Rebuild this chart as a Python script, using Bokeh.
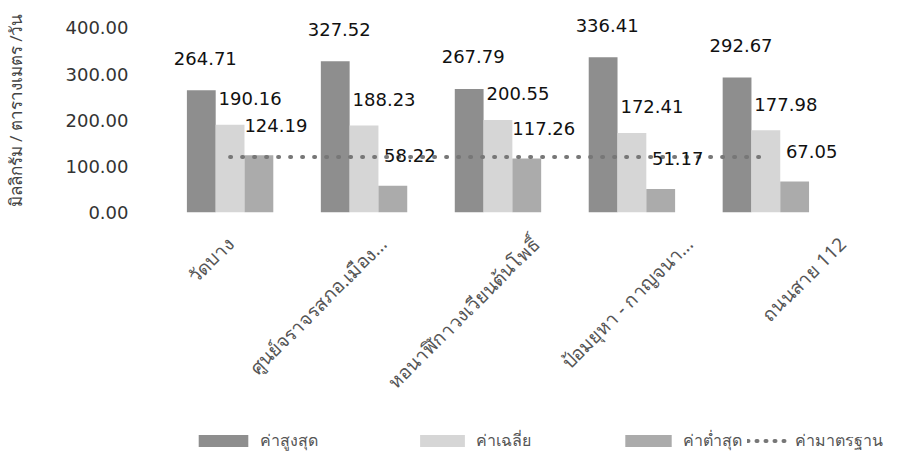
import math
from bokeh.plotting import figure
from bokeh.layouts import column
from bokeh.models import (Range1d, FixedTicker, ColumnDataSource, Legend, LegendItem,
                          NumeralTickFormatter)
from bokeh.core.properties import value
from bokeh.embed import file_html
from bokeh.resources import INLINE

categories = ["วัดบาง", "ศูนย์จราจรสภอ.เมือง...", "หอนาฬิกาวงเวียนต้นโพธิ์",
              "ป้อมยุหา - กาญจนา...", "ถนนสาย 112"]
max_vals = [264.71, 327.52, 267.79, 336.41, 292.67]
avg_vals = [190.16, 188.23, 200.55, 172.41, 177.98]
min_vals = [124.19, 58.22, 117.26, 51.17, 67.05]
standard_vals = [120, 120, 120, 120, 120]
series_names = ["ค่าสูงสุด", "ค่าเฉลี่ย", "ค่าต่ำสุด", "ค่ามาตรฐาน"]
y_ticks = [0, 100, 200, 300, 400]
y_title = "มิลลิกรัม / ตารางเมตร /วัน"

FONT = "DejaVu Sans"
THAI = "Noto Sans"
C_MAX, C_AVG, C_MIN, C_STD = "#8e8e8e", "#d6d6d6", "#ababab", "#777777"

xs = list(range(len(categories)))
bw = 0.215
src = ColumnDataSource(dict(
    x=xs,
    xmax=[x - bw for x in xs], xavg=xs, xmin=[x + bw for x in xs],
    vmax=max_vals, vavg=avg_vals, vmin=min_vals, std=standard_vals,
    lmax=["%.2f" % v for v in max_vals],
    lavg=["%.2f" % v for v in avg_vals],
    lmin=["%.2f" % v for v in min_vals],
))

p = figure(width=916, height=420, output_backend="svg", toolbar_location=None,
           x_range=Range1d(-0.654, 5.05), y_range=Range1d(0, 442),
           min_border_top=8, min_border_right=10, min_border_left=10, min_border_bottom=208)
p.outline_line_color = None
p.xgrid.visible = False
p.ygrid.visible = False

p.vbar(x="xmax", top="vmax", width=bw, source=src, fill_color=C_MAX, line_color=None)
p.vbar(x="xavg", top="vavg", width=bw, source=src, fill_color=C_AVG, line_color=None)
p.vbar(x="xmin", top="vmin", width=bw, source=src, fill_color=C_MIN, line_color=None)
p.line(x="x", y="std", source=src, line_color=C_STD, line_width=4,
       line_dash="1 11", line_cap="round")

tkw = dict(source=src, text_font=value(FONT), text_font_size="18px",
           text_color="#111111", text_align="center", text_baseline="middle")
p.text(x="xmax", y="vmax", text="lmax", x_offset=4, y_offset=-32, **tkw)
p.text(x="xavg", y="vavg", text="lavg", x_offset=20, y_offset=-26, **tkw)
p.text(x="xmin", y="vmin", text="lmin", x_offset=17, y_offset=-30, **tkw)

ya = p.yaxis[0]
ya.ticker = FixedTicker(ticks=y_ticks)
ya.formatter = NumeralTickFormatter(format="0.00")
ya.axis_line_color = None
ya.major_tick_line_color = None
ya.minor_tick_line_color = None
ya.major_label_text_font = FONT
ya.major_label_text_font_size = "18px"
ya.major_label_text_color = "#333333"
ya.major_label_standoff = 8
ya.axis_label = y_title
ya.axis_label_text_font = THAI
ya.axis_label_text_font_size = "17px"
ya.axis_label_text_font_style = "normal"
ya.axis_label_text_color = "#444444"
ya.axis_label_standoff = 36

# category labels are spread a little wider than the bar groups, as in the reference
label_spread = 1.143
tick_pos = [x * label_spread for x in xs]
xa = p.xaxis[0]
xa.ticker = FixedTicker(ticks=tick_pos)
xa.major_label_overrides = {t: c for t, c in zip(tick_pos, categories)}
xa.major_label_orientation = math.pi / 4
xa.axis_line_color = None
xa.major_tick_line_color = None
xa.minor_tick_line_color = None
xa.major_label_text_font = THAI
xa.major_label_text_font_size = "19px"
xa.major_label_text_color = "#555555"
xa.major_label_standoff = 22

# legend strip below the chart (its frame is aligned with the chart frame in the column)
lg = figure(width=916, height=45, output_backend="svg", toolbar_location=None,
            x_range=Range1d(0, 1), y_range=Range1d(0, 1),
            x_axis_type=None, y_axis_type=None,
            min_border_left=0, min_border_right=0, min_border_top=0, min_border_bottom=0)
lg.grid.visible = False
lg.outline_line_color = None
e = ColumnDataSource(dict(x=[-5], y=[0]))
l_max = lg.vbar(x="x", top="y", width=0.1, source=e, fill_color=C_MAX, line_color=None)
l_avg = lg.vbar(x="x", top="y", width=0.1, source=e, fill_color=C_AVG, line_color=None)
l_min = lg.vbar(x="x", top="y", width=0.1, source=e, fill_color=C_MIN, line_color=None)
l_std = lg.line(x="x", y="y", source=e, line_color=C_STD, line_width=4,
                line_dash="1 8", line_cap="round")

legend_x = [50, 272, 477, 605]
glyph_w = [62, 56, 58, 42]
for name, r, lx, gw in zip(series_names, [l_max, l_avg, l_min, l_std], legend_x, glyph_w):
    leg = Legend(items=[LegendItem(label=name, renderers=[r])], location=(lx, 12))
    leg.border_line_color = None
    leg.background_fill_alpha = 0
    leg.glyph_width = gw
    leg.glyph_height = 15
    leg.label_text_font = THAI
    leg.label_text_font_size = "16px"
    leg.label_text_color = "#555555"
    leg.label_standoff = 6
    leg.margin = 0
    leg.padding = 0
    lg.add_layout(leg, "center")

layout = column(p, lg, spacing=0)
open("out.html", "w").write(file_html(layout, INLINE))
